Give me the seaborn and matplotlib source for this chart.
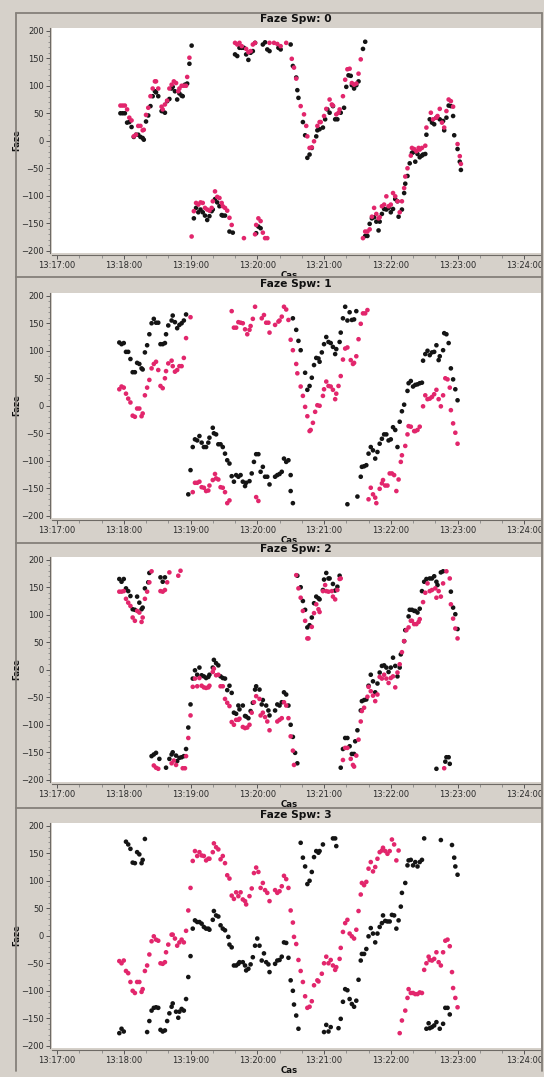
import pandas as pd
import matplotlib
matplotlib.use('Agg')  # no display
import matplotlib.pyplot as plt
import matplotlib.dates as mdates
from matplotlib.ticker import MultipleLocator
from matplotlib.lines import Line2D
import seaborn as sns

# (seconds after 13:17:00, phase in degrees)
spw0_black = [(57, 50), (59, 50), (61, 50), (63, 33), (65, 34), (67, 25), (69, 7), (71, 11), (73, 11), (75, 7), (77, 5), (78, 2),
              (80, 35), (82, 46), (84, 63), (86, 81), (88, 90), (89, 88), (91, 81), (94, 54), (95, 54), (97, 51), (99, 72), (101, 76),
              (103, 95), (104, 98), (106, 90), (108, 75), (110, 86), (112, 82), (113, 81), (115, 102), (117, 104), (119, 140), (121, 173),
              (123, -141), (125, -122), (127, -130), (129, -125), (131, -130), (133, -136), (135, -144), (137, -137), (139, -128),
              (140, -125), (142, -106), (144, -112), (146, -119), (148, -135), (149, -136), (151, -136), (155, -165), (158, -167),
              (160, 157), (162, 154), (164, 169), (166, 169), (168, 169), (170, 157), (172, 147), (174, 160), (176, 163), (178, 178),
              (179, -168), (181, -156), (183, -159), (185, 175), (187, 179), (189, 166), (191, 163), (199, 169), (201, 166), (210, 175),
              (212, 136), (215, 115), (216, 92), (217, 78), (221, 34), (223, 10), (225, -31), (227, -25), (229, -13), (233, 8), (234, 19),
              (236, 21), (239, 24), (241, 39), (243, 57), (245, 51), (248, 63), (250, 39), (252, 39), (255, 51), (258, 60), (260, 98),
              (262, 119), (264, 118), (265, 101), (267, 95), (269, 101), (271, 108), (275, 167), (277, 180), (277, -173), (279, -173),
              (281, -151), (283, -141), (285, -139), (287, -147), (289, -163), (290, -147), (292, -133), (294, -124), (296, -125),
              (298, -122), (300, -130), (302, -124), (304, -106), (306, -110), (307, -138), (310, -125), (312, -95), (313, -78),
              (315, -64), (317, -41), (319, -22), (320, -21), (322, -38), (324, -24), (326, -30), (328, -27), (329, -25), (331, -24),
              (332, 11), (335, 39), (337, 33), (339, 30), (341, 42), (344, 39), (347, 36), (348, 19), (350, 42), (352, 64), (354, 63),
              (356, 45), (357, 10), (360, -15), (362, -38), (363, -53)]
spw0_pink = [(57, 64), (59, 64), (61, 64), (63, 57), (65, 42), (67, 37), (69, 8), (71, 11), (73, 27), (75, 27), (77, 19), (78, 20),
             (80, 47), (82, 60), (84, 81), (86, 95), (88, 108), (89, 108), (91, 95), (94, 62), (95, 57), (97, 66), (99, 73), (101, 95),
             (103, 102), (105, 108), (107, 105), (109, 90), (110, 95), (112, 100), (114, 100), (116, 100), (117, 116), (119, 151),
             (121, -174), (123, -128), (125, -113), (127, -116), (129, -112), (131, -113), (133, -122), (135, -125), (137, -127),
             (139, -122), (140, -110), (142, -92), (144, -102), (146, -104), (148, -113), (149, -119), (151, -122), (153, -127),
             (155, -140), (157, -153), (168, -177), (178, -170), (179, -153), (181, -141), (183, -146), (185, -167), (187, -177),
             (189, -177), (160, 178), (162, 175), (164, 178), (166, 172), (170, 167), (172, 161), (174, 163), (176, 175), (178, 178),
             (191, 178), (195, 178), (198, 176), (201, 172), (206, 178), (211, 149), (213, 133), (215, 113), (219, 63), (222, 48),
             (224, 27), (225, 8), (227, -13), (229, -12), (231, -1), (234, 27), (236, 34), (237, 34), (240, 45), (242, 58), (245, 75),
             (247, 66), (248, 64), (251, 48), (253, 51), (254, 57), (257, 81), (259, 111), (261, 130), (263, 131), (265, 105),
             (267, 102), (269, 104), (271, 122), (273, 148), (275, -177), (277, -165), (279, -165), (281, -161), (283, -138),
             (285, -122), (287, -133), (289, -141), (290, -139), (292, -119), (294, -116), (296, -101), (298, -119), (300, -116),
             (302, -95), (304, -101), (306, -110), (308, -130), (310, -110), (312, -86), (313, -65), (315, -50), (318, -27),
             (319, -13), (321, -15), (323, -19), (325, -13), (326, -16), (328, -13), (331, -9), (332, 24), (336, 51), (338, 39),
             (341, 42), (342, 45), (344, 58), (346, 33), (348, 24), (350, 54), (352, 75), (354, 72), (356, 62), (360, -6), (362, -28),
             (363, -42)]

spw1_black = [(56, 115), (58, 112), (60, 114), (62, 98), (64, 98), (66, 85), (68, 61), (70, 61), (72, 78), (74, 76), (76, 68), (77, 66),
              (79, 97), (81, 110), (83, 130), (85, 150), (87, 158), (89, 151), (91, 151), (93, 112), (95, 112), (97, 114), (98, 130),
              (100, 146), (103, 155), (104, 164), (106, 152), (108, 141), (110, 147), (112, 150), (114, 155), (116, 166),
              (118, -161), (120, -117), (122, -75), (124, -61), (126, -63), (128, -55), (130, -67), (132, -75), (134, -75), (136, -67),
              (137, -58), (140, -40), (141, -50), (143, -52), (145, -70), (147, -70), (149, -75), (151, -87), (153, -99), (155, -105),
              (157, -128), (159, -138), (161, -126), (163, -129), (165, -126), (167, -138), (169, -146), (170, -140), (173, -137),
              (175, -123), (177, -102), (179, -88), (181, -88), (183, -120), (185, -111), (187, -129), (189, -129), (191, -143),
              (196, -129), (198, -126), (200, -124), (202, -120), (204, -96), (206, -102), (208, -99), (210, -126), (210, -155),
              (212, -177), (212, 159), (215, 138), (217, 118), (219, 101), (223, 60), (225, 29), (227, 36), (229, 51), (231, 74),
              (233, 87), (235, 86), (236, 80), (238, 97), (240, 112), (242, 125), (244, 116), (246, 114), (248, 107), (250, 94),
              (251, 103), (254, 116), (255, 133), (257, 159), (259, 180), (261, 155), (263, 170), (265, 156), (267, 157), (269, 172),
              (261, -179), (270, -165), (273, -129), (274, -111), (276, -110), (278, -108), (280, -87), (282, -75), (284, -81),
              (286, -96), (288, -84), (290, -69), (292, -60), (294, -52), (296, -52), (298, -63), (300, -61), (302, -39), (304, -44),
              (306, -75), (308, -29), (310, -10), (312, 2), (315, 27), (316, 41), (318, 45), (320, 35), (322, 38), (324, 39), (326, 41),
              (328, 42), (329, 82), (331, 94), (333, 100), (335, 92), (337, 97), (339, 98), (341, 110), (343, 83), (344, 90), (347, 101),
              (348, 132), (350, 130), (352, 114), (354, 68), (356, 48), (358, 30), (360, 10)]
spw1_pink = [(56, 30), (58, 35), (60, 33), (62, 22), (64, 13), (66, 6), (68, -18), (70, -20), (72, -5), (74, -5), (76, -19), (77, -14),
             (79, 19), (81, 33), (83, 47), (85, 68), (87, 76), (89, 80), (91, 65), (93, 36), (95, 32), (97, 50), (98, 63), (100, 77),
             (103, 82), (104, 72), (106, 62), (108, 65), (110, 72), (112, 72), (114, 87), (116, 123), (120, 161), (122, -157),
             (124, -140), (126, -140), (128, -138), (130, -148), (132, -149), (134, -155), (136, -154), (137, -145), (140, -135),
             (142, -124), (143, -132), (145, -134), (147, -148), (149, -149), (151, -157), (153, -177), (155, -172), (179, -166),
             (181, -173), (157, 172), (159, 142), (161, 142), (163, 152), (165, 151), (167, 150), (169, 139), (171, 130), (173, 138),
             (174, 145), (176, 158), (178, 180), (184, 159), (186, 165), (188, 151), (190, 151), (191, 133), (196, 147), (199, 153),
             (200, 155), (202, 162), (204, 180), (206, 175), (208, 156), (210, 120), (212, 101), (215, 76), (216, 59), (219, 35),
             (221, 18), (223, -2), (225, -19), (227, -46), (228, -44), (230, -31), (232, -11), (234, 1), (236, 0), (239, 18), (240, 30),
             (242, 44), (244, 36), (246, 35), (248, 29), (250, 12), (251, 22), (253, 36), (255, 54), (257, 84), (259, 104), (261, 106),
             (264, 83), (266, 76), (267, 78), (269, 90), (271, 121), (273, 149), (275, 168), (277, 168), (279, 174), (280, -170),
             (282, -149), (284, -161), (286, -167), (287, -177), (290, -151), (292, -141), (293, -135), (295, -145), (297, -145),
             (299, -123), (301, -123), (303, -126), (305, -155), (307, -134), (309, -102), (310, -90), (313, -73), (315, -52),
             (316, -37), (318, -38), (321, -46), (322, -46), (324, -44), (326, -38), (329, -1), (331, 19), (333, 12), (335, 13),
             (337, 16), (339, 21), (341, 29), (343, 12), (345, -1), (347, 19), (349, 50), (351, 48), (353, 33), (354, -8), (356, -32),
             (358, -49), (360, -69)]

spw2_black = [(56, 165), (58, 160), (60, 165), (62, 148), (64, 143), (66, 134), (68, 110), (70, 109), (72, 133), (74, 122), (76, 110),
              (77, 113), (79, 148), (82, 159), (83, 176), (93, 168), (95, 160), (97, 168), (85, -157), (87, -154), (89, -151),
              (92, -162), (98, -178), (101, -162), (103, -154), (104, -150), (107, -156), (108, -166), (110, -160), (112, -159),
              (114, -157), (116, -144), (118, -105), (120, -63), (122, -16), (124, -1), (126, -9), (128, 4), (130, -10), (132, -12),
              (134, -15), (136, -13), (137, -9), (140, 4), (141, 18), (143, 12), (145, 8), (147, -12), (149, -15), (151, -16),
              (153, -37), (155, -29), (157, -42), (159, -78), (161, -80), (163, -65), (164, -72), (167, -65), (169, -84), (170, -85),
              (172, -88), (174, -75), (176, -60), (178, -36), (179, -30), (182, -36), (184, -63), (185, -55), (188, -65), (190, -74),
              (191, -83), (196, -74), (198, -63), (200, -65), (202, -59), (204, -41), (206, -45), (208, -65), (210, -100), (212, -122),
              (214, -151), (216, -170), (216, 171), (219, 150), (221, 125), (223, 109), (225, 77), (227, 81), (229, 95), (231, 121),
              (233, 133), (235, 130), (236, 128), (239, 145), (240, 164), (242, 176), (244, 166), (245, 166), (248, 156), (250, 144),
              (252, 151), (254, 171), (255, -178), (257, -144), (259, -124), (261, -124), (263, -139), (265, -153), (267, -153),
              (268, -130), (270, -110), (273, -74), (274, -57), (276, -55), (278, -54), (280, -29), (282, -9), (284, -21), (286, -41),
              (288, -25), (290, -5), (292, 7), (294, 8), (296, 4), (298, -4), (300, 4), (302, 22), (304, 7), (306, -12), (308, 4),
              (309, 28), (312, 52), (313, 72), (316, 97), (317, 109), (319, 109), (321, 107), (322, 107), (324, 104), (326, 111),
              (328, 143), (330, 160), (332, 165), (335, 166), (337, 166), (339, 170), (341, 160), (342, 154), (345, 177), (347, 179),
              (349, -167), (350, -159), (352, -159), (341, -180), (353, -171), (354, 142), (356, 113), (358, 101), (360, 74)]
spw2_pink = [(56, 142), (58, 142), (60, 143), (62, 129), (64, 122), (66, 116), (68, 95), (70, 89), (72, 107), (74, 104), (76, 87),
             (77, 95), (79, 129), (81, 142), (83, 159), (85, 179), (87, -174), (89, -178), (91, -180), (93, 143), (95, 142), (97, 145),
             (99, 159), (101, 177), (103, -170), (105, -165), (107, -173), (109, 171), (111, 180), (113, -179), (115, -179),
             (116, -157), (118, -124), (120, -83), (122, -31), (124, -16), (126, -30), (128, -15), (130, -29), (132, -32), (134, -33),
             (136, -32), (137, -29), (140, -4), (141, 2), (143, -10), (145, -9), (147, -30), (149, -30), (151, -53), (153, -60),
             (155, -66), (157, -95), (159, -100), (161, -91), (163, -91), (164, -89), (167, -104), (169, -106), (171, -105),
             (173, -100), (175, -78), (177, -59), (179, -48), (182, -53), (183, -83), (185, -78), (187, -86), (189, -94), (191, -110),
             (198, -94), (200, -91), (202, -88), (204, -59), (206, -65), (208, -88), (210, -121), (212, -147), (213, -173), (215, 172),
             (217, 148), (219, 131), (221, 107), (223, 89), (225, 57), (226, 57), (229, 78), (231, 103), (233, 119), (235, 110),
             (236, 105), (239, 143), (241, 154), (242, 143), (244, 142), (247, 143), (248, 133), (250, 128), (252, 145), (254, 165),
             (255, 166), (257, -164), (259, -142), (261, -142), (264, -162), (266, -173), (267, -176), (269, -156), (271, -127),
             (273, -94), (274, -75), (276, -69), (279, -49), (280, -31), (282, -39), (284, -47), (286, -57), (288, -45), (290, -13),
             (292, -16), (294, -9), (296, -16), (298, -24), (300, -15), (302, -12), (304, -32), (306, -5), (308, 10), (310, 32),
             (312, 52), (314, 72), (316, 77), (318, 89), (319, 89), (321, 83), (323, 83), (325, 87), (326, 92), (329, 123), (331, 140),
             (333, 157), (335, 143), (337, 145), (340, 148), (341, 131), (343, 143), (345, 133), (347, 157), (348, -179), (350, 179),
             (353, 166), (354, 119), (356, 93), (358, 75), (360, 57)]

spw3_black = [(56, -177), (58, -169), (60, -174), (62, 171), (64, 166), (66, 158), (68, 133), (70, 132), (72, 152), (74, 148), (76, 132),
              (77, 138), (79, 176), (81, -175), (83, -155), (85, -136), (87, -131), (89, -130), (91, -131), (93, -171), (95, -174),
              (97, -172), (99, -155), (101, -141), (103, -129), (104, -123), (107, -138), (109, -149), (110, -138), (112, -133),
              (114, -136), (116, -115), (118, -75), (120, -37), (122, 13), (124, 28), (126, 25), (128, 25), (130, 22), (132, 16),
              (134, 13), (136, 13), (137, 11), (140, 29), (141, 45), (143, 37), (145, 35), (147, 19), (149, 13), (151, 10), (154, -2),
              (155, -16), (157, -21), (159, -54), (161, -54), (163, -51), (164, -48), (167, -48), (169, -54), (170, -63), (172, -60),
              (174, -52), (176, -39), (178, -18), (180, -5), (182, -18), (184, -45), (186, -32), (188, -48), (190, -52), (191, -66),
              (196, -51), (198, -45), (200, -44), (202, -38), (204, -12), (206, -13), (208, -40), (210, -81), (212, -100), (213, -125),
              (215, -145), (217, -169), (219, 169), (221, 142), (223, 126), (225, 94), (227, 100), (229, 116), (231, 143), (233, 154),
              (235, 151), (236, 154), (239, 166), (240, -175), (242, -162), (244, -174), (246, -166), (248, 177), (250, 177),
              (251, 163), (253, -168), (255, -151), (257, -120), (259, -97), (261, -99), (263, -115), (265, -124), (267, -129),
              (269, -118), (271, -80), (273, -45), (274, -33), (276, -33), (278, -24), (280, -1), (282, 14), (284, 4), (286, -12),
              (288, 4), (290, 16), (292, 23), (293, 37), (295, 27), (297, 26), (299, 26), (301, 38), (303, 37), (305, 13), (307, 28),
              (309, 53), (310, 78), (313, 96), (315, 128), (316, 137), (318, 138), (320, 128), (322, 134), (324, 126), (326, 134),
              (328, 138), (330, 177), (332, -169), (334, -159), (335, -168), (337, -166), (339, -163), (341, -157), (344, -169),
              (345, 174), (347, -160), (349, -131), (351, -131), (353, -143), (355, 165), (357, 142), (358, 126), (360, 111)]
spw3_pink = [(56, -46), (58, -50), (60, -45), (62, -64), (64, -68), (66, -84), (68, -100), (70, -104), (72, -84), (74, -84), (76, -102),
             (77, -97), (79, -64), (81, -54), (83, -34), (85, -10), (87, -1), (89, -7), (91, -9), (93, -50), (95, -51), (97, -48),
             (98, -30), (100, -16), (103, 2), (104, 2), (106, -5), (108, -18), (110, -12), (112, -7), (114, -12), (116, 9), (118, 46),
             (120, 87), (122, 136), (124, 154), (126, 145), (128, 152), (130, 146), (132, 145), (134, 137), (136, 140), (137, 140),
             (140, 152), (141, 168), (143, 161), (145, 157), (147, 139), (149, 145), (151, 132), (153, 110), (155, 104), (157, 73),
             (159, 67), (161, 79), (163, 72), (165, 79), (167, 66), (169, 63), (170, 57), (173, 72), (175, 86), (177, 114), (179, 124),
             (181, 116), (183, 87), (185, 96), (187, 83), (189, 78), (191, 63), (196, 83), (198, 78), (200, 81), (202, 90), (204, 109),
             (206, 103), (208, 87), (210, 46), (212, 24), (213, -2), (215, -15), (217, -44), (219, -64), (221, -84), (223, -110),
             (225, -131), (227, -129), (229, -119), (231, -90), (234, -81), (235, -83), (238, -69), (240, -50), (242, -38), (244, -50),
             (246, -44), (248, -54), (250, -62), (251, -57), (254, -42), (255, -22), (257, 7), (259, 23), (261, 29), (263, 4), (265, -1),
             (267, -5), (269, 11), (271, 45), (273, 75), (274, 96), (276, 92), (278, 98), (280, 122), (282, 134), (284, 117), (286, 125),
             (288, 140), (290, 152), (292, 155), (293, 160), (295, 154), (297, 149), (299, 154), (301, 175), (303, 166), (305, 137),
             (307, 155), (308, -177), (310, -154), (313, -136), (315, -113), (316, -97), (318, -104), (320, -104), (322, -106),
             (324, -106), (326, -103), (328, -104), (330, -62), (332, -50), (334, -38), (335, -44), (337, -45), (339, -42), (341, -30),
             (343, -48), (345, -54), (347, -30), (349, -9), (351, -7), (353, -19), (355, -66), (356, -95), (358, -113), (360, -130)]

spw_names = ['0', '1', '2', '3']
spw_data = [(spw0_black, spw0_pink), (spw1_black, spw1_pink), (spw2_black, spw2_pink), (spw3_black, spw3_pink)]
x_ticks = ['13:17:00', '13:18:00', '13:19:00', '13:20:00', '13:21:00', '13:22:00', '13:23:00', '13:24:00']
y_ticks = [-200, -150, -100, -50, 0, 50, 100, 150, 200]

day = '2000-01-01 '
t0 = pd.Timestamp(day + '13:17:00')

BG = '#d6d1ca'
FRAME = '#85807a'
colors = {'a': '#141414', 'b': '#e2266c'}

sns.set_theme(style='white')
plt.rcParams['font.family'] = ['DejaVu Sans']

W, H = 544, 1077
fig = plt.figure(figsize=(W / 100, H / 100), dpi=100, facecolor=BG)


def box(left, top, right, bottom):
    return [left / W, 1 - bottom / H, (right - left) / W, (bottom - top) / H]


plot_tops = [28, 293, 557, 823]
for i, (name, (black, pink)) in enumerate(zip(spw_names, spw_data)):
    top = plot_tops[i]
    ax = fig.add_axes(box(52, top, 541, top + 225))
    ax.set_facecolor('white')

    df = pd.concat([
        pd.DataFrame(black, columns=['sec', 'faze']).assign(serie='a'),
        pd.DataFrame(pink, columns=['sec', 'faze']).assign(serie='b'),
    ], ignore_index=True)
    df['cas'] = t0 + pd.to_timedelta(df['sec'], unit='s')

    sns.scatterplot(data=df, x='cas', y='faze', hue='serie', palette=colors,
                    s=11, linewidth=0, legend=False, ax=ax, zorder=3)

    ax.set_xlim(t0 - pd.Timedelta(seconds=4.5), t0 + pd.Timedelta(seconds=435))
    ax.set_ylim(-204, 205)
    ax.set_xticks([pd.Timestamp(day + s) for s in x_ticks])
    ax.xaxis.set_major_formatter(mdates.DateFormatter('%H:%M:%S'))
    ax.xaxis.set_minor_locator(mdates.SecondLocator(bysecond=[20, 40]))
    ax.set_yticks(y_ticks)
    ax.yaxis.set_minor_locator(MultipleLocator(10))

    for side in ['top', 'right']:
        ax.spines[side].set_visible(False)
    for side in ['left', 'bottom']:
        ax.spines[side].set_color('#6e6a65')
        ax.spines[side].set_linewidth(0.8)
        ax.spines[side].set_position(('outward', 1.5))
    ax.tick_params(which='major', direction='out', length=3, width=0.7, color='#555555',
                   labelsize=6, labelcolor='#2a2a2a', pad=1.5, left=True, bottom=True)
    ax.tick_params(which='minor', direction='out', length=1.8, width=0.5, color='#777777',
                   left=True, bottom=True)

    ax.set_xlabel('Cas', fontsize=6.2, fontweight='bold', color='#111111')
    ax.xaxis.set_label_coords(0.485, -0.08)
    ax.set_ylabel('Faze', fontsize=6.2, fontweight='bold', color='#111111')
    ax.yaxis.set_label_coords(-0.063, 0.5)

    fig.text(296 / W, 1 - (top - 8.5) / H, 'Faze Spw: ' + name, ha='center', va='center',
             fontsize=7.7, fontweight='bold', color='#111111')

# panel frame lines
frame_lines = [((16, 16), (13, 1071)), ((542, 542), (13, 1071)), ((16, 542), (13, 13)),
               ((16, 542), (277, 277)), ((16, 542), (543, 543)), ((16, 542), (808, 808))]
for xs, ys in frame_lines:
    fig.add_artist(Line2D([x / W for x in xs], [1 - y / H for y in ys], color=FRAME, linewidth=1.3))

fig.savefig('out.png', dpi=100, facecolor=BG)
